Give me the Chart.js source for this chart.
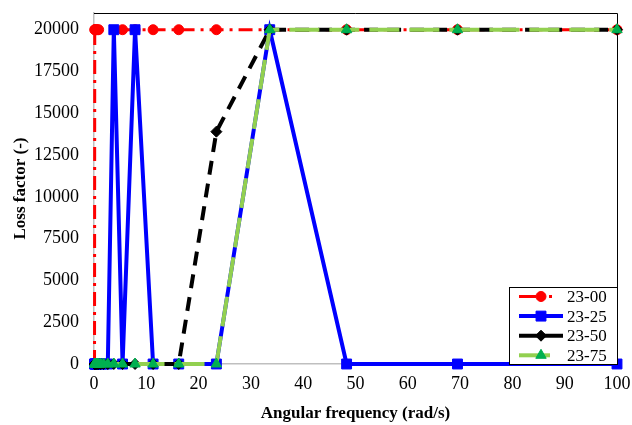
<!DOCTYPE html>
<html>
<head>
<meta charset="utf-8">
<script src="https://cdn.jsdelivr.net/npm/chart.js@4.4.1/dist/chart.umd.min.js"></script>
<style>
  html, body { margin: 0; padding: 0; background: #fff; }
  #wrap { width: 632px; height: 425px; }
</style>
</head>
<body>
<div id="wrap"><canvas id="lossChart" width="632" height="425"></canvas></div>
<script>
// Angular frequency (rad/s)
const freq = [0.1, 0.144, 0.207, 0.298, 0.428, 0.616, 0.886, 1.27, 1.83, 2.64,
  3.79, 5.46, 7.85, 11.3, 16.2, 23.4, 33.6, 48.3, 69.5, 100];

// Loss factor (-) per sample, null = no point
const s2300 = [0, 20000, 20000, 20000, 20000, 20000, 20000, null, null, null,
  null, 20000, 20000, 20000, 20000, 20000, 20000, 20000, 20000, 20000];
const s2325 = [0, 0, 0, 0, 0, 0, 0, 0, 0, 0,
  20000, 0, 20000, 0, 0, 0, 20000, 0, 0, 0];
const s2350 = [0, 0, 0, 0, 0, 0, 0, 0, 0, 0,
  0, 0, 0, 0, 0, 13900, 20000, 20000, 20000, 20000];
const s2375 = [0, 0, 0, 0, 0, 0, 0, 0, 0, 0,
  0, 0, 0, 0, 0, 0, 20000, 20000, 20000, 20000];

const seriesNames = ['23-00', '23-25', '23-50', '23-75'];

// axis ticks
const xTickValues = [0, 10, 20, 30, 40, 50, 60, 70, 80, 90, 100];
const yTickValues = [0, 2500, 5000, 7500, 10000, 12500, 15000, 17500, 20000];
const yMax = 21000;

const serif = "'Liberation Serif', 'Times New Roman', serif";
Chart.defaults.font.family = serif;

const pts = ys => freq.map((x, i) => ({ x: x, y: ys[i] }));

// no automatic room for the end labels, the layout padding does it
function noPad(s) {
  s.paddingTop = 0; s.paddingBottom = 0; s.paddingLeft = 0; s.paddingRight = 0;
}

// frame on top and right side of the plot
const framePlugin = {
  id: 'frame',
  beforeDatasetsDraw(chart) {
    const a = chart.chartArea, ctx = chart.ctx;
    ctx.save();
    ctx.strokeStyle = '#000';
    ctx.lineWidth = 1;
    ctx.beginPath();
    ctx.moveTo(a.left, a.top + 0.5);
    ctx.lineTo(a.right + 0.5, a.top + 0.5);
    ctx.lineTo(a.right + 0.5, a.bottom);
    ctx.stroke();
    ctx.restore();
  }
};

// boxed legend in the lower right corner of the plot
const boxLegend = {
  id: 'boxLegend',
  afterDraw(chart) {
    const a = chart.chartArea, ctx = chart.ctx;
    const w = 108, h = 77;
    const x0 = a.right - w, y0 = a.bottom - h;
    ctx.save();
    ctx.fillStyle = '#fff';
    ctx.fillRect(x0, y0, w, h);
    ctx.strokeStyle = '#000';
    ctx.lineWidth = 1;
    ctx.strokeRect(Math.round(x0) + 0.5, Math.round(y0) + 0.5, w, h);
    chart.data.datasets.forEach((ds, i) => {
      const y = y0 + 9.5 + i * 19.6;
      ctx.strokeStyle = ds.borderColor;
      ctx.lineWidth = ds.borderWidth;
      ctx.setLineDash(ds.legendDash || []);
      ctx.beginPath();
      ctx.moveTo(x0 + 10, y);
      ctx.lineTo(x0 + 54, y);
      ctx.stroke();
      ctx.setLineDash([]);
      ctx.fillStyle = ds.pointBackgroundColor;
      ctx.strokeStyle = ds.pointBorderColor;
      ctx.lineWidth = 1;
      Chart.helpers.drawPoint(ctx, { pointStyle: ds.pointStyle, radius: ds.pointRadius, rotation: 0, borderWidth: 1 }, x0 + 32, y);
      ctx.fillStyle = '#000';
      ctx.font = '17px ' + serif;
      ctx.textBaseline = 'middle';
      ctx.textAlign = 'left';
      ctx.fillText(ds.label, x0 + 58, y + 1);
    });
    ctx.restore();
  }
};

const ctx = document.getElementById('lossChart').getContext('2d');
const chart = new Chart(ctx, {
  type: 'line',
  data: {
    datasets: [
      { label: seriesNames[0], data: pts(s2300), borderColor: '#FF0000', borderWidth: 3, borderDash: [14, 6, 3, 6], legendDash: [17, 13, 3, 30],
        pointStyle: 'circle', pointRadius: 5, pointBackgroundColor: '#FF0000', pointBorderColor: '#FF0000', order: 4 },
      { label: seriesNames[1], data: pts(s2325), borderColor: '#0000FF', borderWidth: 4,
        pointStyle: 'rect', pointRadius: 7, pointBackgroundColor: '#0000FF', pointBorderColor: '#0000FF', order: 3 },
      { label: seriesNames[2], data: pts(s2350), borderColor: '#000000', borderWidth: 4, borderDash: [14, 9], legendDash: [],
        pointStyle: 'rectRot', pointRadius: 5.5, pointBackgroundColor: '#000000', pointBorderColor: '#000000', order: 2 },
      { label: seriesNames[3], data: pts(s2375), borderColor: '#92D050', borderWidth: 4, borderDash: [30, 10], legendDash: [31, 30],
        pointStyle: 'triangle', pointRadius: 6, pointBackgroundColor: '#00B050', pointBorderColor: '#00B050', order: 1 }
    ].map(d => Object.assign(d, { fill: false, tension: 0, clip: false, spanGaps: false, pointBorderWidth: 1 }))
  },
  options: {
    responsive: false,
    animation: false,
    layout: { padding: { top: 13, right: 15, left: 0, bottom: 0 } },
    plugins: { legend: { display: false }, tooltip: { enabled: false } },
    scales: {
      x: {
        type: 'linear', min: xTickValues[0], max: xTickValues[xTickValues.length - 1],
        afterBuildTicks(s) { s.ticks = xTickValues.map(v => ({ value: v })); },
        ticks: { padding: 9, color: '#000', font: { size: 18 }, maxRotation: 0, callback: v => String(v) },
        grid: { display: false, drawTicks: false },
        border: { color: '#BFBFBF', width: 1.5 },
        title: { display: true, text: 'Angular frequency (rad/s)', color: '#000', font: { size: 17, weight: 'bold' }, padding: { top: 4, bottom: 1 } },
        afterFit(s) { s.height = 61; noPad(s); }
      },
      y: {
        min: yTickValues[0], max: yMax,
        afterBuildTicks(s) { s.ticks = yTickValues.map(v => ({ value: v })); },
        ticks: { padding: 15, color: '#000', font: { size: 18 }, callback: v => String(v) },
        grid: { display: false, drawTicks: false },
        border: { color: '#BFBFBF', width: 1.5 },
        title: { display: true, text: 'Loss factor (-)', color: '#000', font: { size: 17, weight: 'bold' }, padding: { top: 10, bottom: 4 } },
        afterFit(s) { s.width = 94; noPad(s); }
      }
    }
  },
  plugins: [framePlugin, boxLegend]
});
</script>
</body>
</html>
